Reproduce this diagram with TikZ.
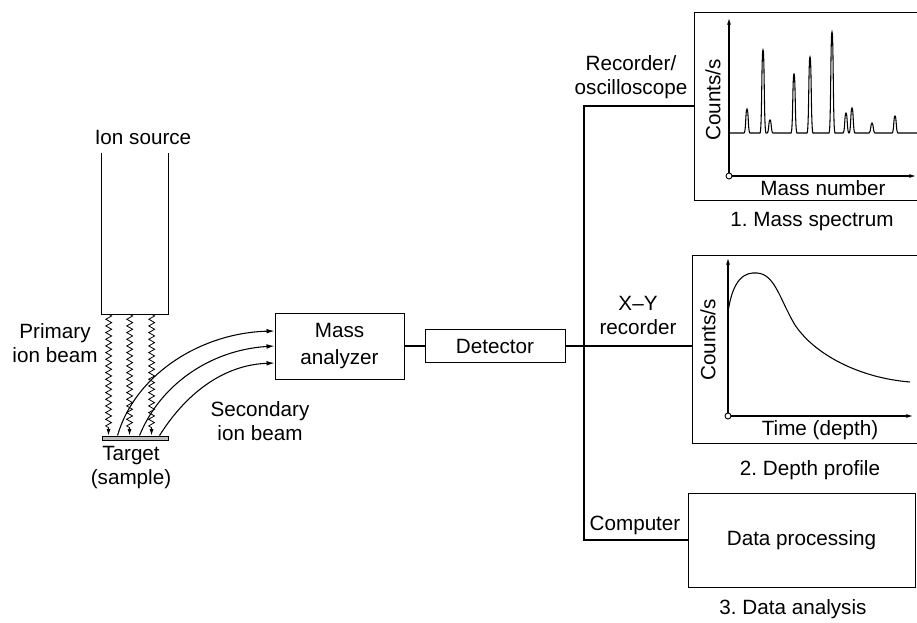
\documentclass[tikz,border=0pt]{standalone}
\usepackage{fontspec}
\setmainfont{Liberation Sans}
\usepackage{tikz}
\usetikzlibrary{arrows.meta,positioning,fit,calc,decorations.pathmorphing}
\frenchspacing

\begin{document}
\begin{tikzpicture}[x=0.75pt,y=-0.75pt,font=\fontsize{15.5}{18}\selectfont,
  box/.style={draw,line width=0.7pt,inner sep=0pt,align=center},
  wire/.style={draw,line width=1.4pt},
  prim/.style={draw,line width=0.6pt,decorate,decoration={zigzag,segment length=5pt,amplitude=2.2pt,post length=5pt},-{Latex[length=5pt,width=3pt]}},
  sec/.style={draw,line width=0.8pt,-{Latex[length=6pt,width=3.5pt]}},
  axis/.style={draw,line width=0.8pt,-{Latex[length=5pt,width=3pt]}},
  trace/.style={draw,line width=0.8pt},
  lbl/.style={align=center,inner sep=0pt}]
  \useasboundingbox (0,0) rectangle (917,623);

  % source, target, beams
  \node[fit={(102,153) (168,314)},inner sep=0pt] (src) {};
  \draw[line width=0.8pt] (src.north west) |- (src.south east) -- (src.north east);
  \node[lbl] at (143,137) (srclbl) {Ion source};
  \node[box,fill=black!25,fit={(102,436) (168,440)}] (target) {};
  \node[lbl] at (131,468) (tgtlbl) {Target\\(sample)};
  \node[lbl] at (55,343) (primlbl) {Primary\\ion beam};
  \node[lbl] at (260,421) (seclbl) {Secondary\\ion beam};
  \foreach \d in {7,28,50}
    { \draw[prim] ($(src.south west)+(\d,0)$) -- ($(target.north west)+(\d,0)$); }

  % analyzer and detector
  \node[box,minimum width=96.75pt,minimum height=49.5pt] at (339.5,346) (ma) {Mass\\[2pt]analyzer};
  \node[box,minimum width=105pt,minimum height=24.75pt] at (495,346) (det) {Detector};
  \draw[sec] ($(target.north west)+(16,0)$) .. controls (135,375) and (200,333) .. ($(ma.west)+(0,-15)$);
  \draw[sec] ($(target.north west)+(38,0)$) .. controls (160,385) and (210,350) .. (ma.west);
  \draw[sec] ($(target.north west)+(58,0)$) .. controls (185,395) and (222,365) .. ($(ma.west)+(0,17)$);
  \draw[wire] (ma.east) -- (det.west);

  % output frames
  \node[box,fit={(694,12) (922,200)}] (spec) {};
  \node[box,fit={(692,255) (922,443)}] (dep) {};
  \node[box,minimum width=170.25pt,minimum height=70.5pt] at (801.5,540) (dp) {Data processing};
  \coordinate (bus) at (584,346);
  \draw[wire] (spec.west) -| (bus) |- (dp.west);
  \draw[wire] (det.east) -- (det.east -| dep.west);
  \node[lbl] at (631,77) (reclbl) {Recorder/\\oscilloscope};
  \node[lbl] at (638,315) (xylbl) {X--Y\\recorder};
  \node[lbl] at (635,525) (complbl) {Computer};

  % 1. mass spectrum
  \draw[line width=0.7pt] (729,176) circle (3);
  \draw[axis] (729,173) -- (729,18);
  \draw[axis] (732,176) -- (916,176);
  \draw[trace] (729,133) foreach \p/\h in {747/109,763/50,770/120,794/74,810/57,832/32,846/113,852/108,872/123,895/116}
    { -- (\p-3,133) .. controls (\p-1,133) and (\p-1.5,\h) .. (\p,\h) .. controls (\p+1.5,\h) and (\p+1,133) .. (\p+3,133) } -- (917,133);
  \node[lbl,rotate=90] at (713,100) (cnt1) {Counts/s};
  \node[lbl] at (823,188) (mnlbl) {Mass number};
  \node[lbl] at (812,222) (speclbl) {1. Mass spectrum};

  % 2. depth profile
  \draw[line width=0.7pt] (728,416) circle (3);
  \draw[axis] (728,413) -- (728,258);
  \draw[axis] (731,416) -- (913,416);
  \draw[trace] (728,312) .. controls (733,278) and (745,272) .. (757,273)
    .. controls (775,274) and (780,300) .. (795,325)
    .. controls (815,355) and (860,378) .. (910,382);
  \node[lbl,rotate=90] at (708,340) (cnt2) {Counts/s};
  \node[lbl] at (820,430) (tdlbl) {Time (depth)};
  \node[lbl] at (810,470) (deplbl) {2. Depth profile};

  % 3. data analysis
  \node[lbl] at (793,609) (dalbl) {3. Data analysis};
\end{tikzpicture}
\end{document}
